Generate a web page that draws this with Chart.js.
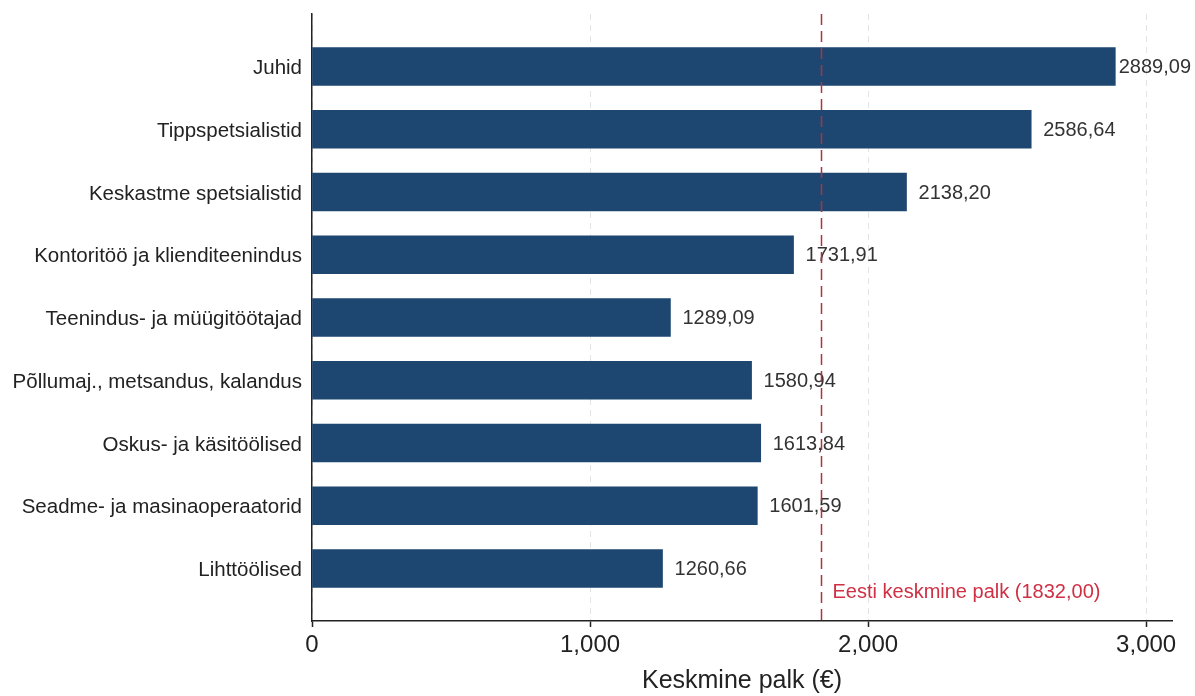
<!DOCTYPE html>
<html>
<head>
<meta charset="utf-8">
<script src="https://cdn.jsdelivr.net/npm/chart.js@4/dist/chart.umd.min.js"></script>
<style>
  html, body { margin: 0; padding: 0; background: #ffffff; }
  #wrap { width: 1195px; height: 696px; position: relative; }
</style>
</head>
<body>
<div id="wrap"><canvas id="c" width="1195" height="696"></canvas></div>
<script>
// Ametiala pearühmad ja nende keskmine brutopalk (€)
const occupations = [
  'Juhid',
  'Tippspetsialistid',
  'Keskastme spetsialistid',
  'Kontoritöö ja klienditeenindus',
  'Teenindus- ja müügitöötajad',
  'Põllumaj., metsandus, kalandus',
  'Oskus- ja käsitöölised',
  'Seadme- ja masinaoperaatorid',
  'Lihttöölised'
];
const avgWage = [2889.09, 2586.64, 2138.20, 1731.91, 1289.09, 1580.94, 1613.84, 1601.59, 1260.66];
const estoniaAverage = 1832.00;
const estoniaAverageLabel = 'Eesti keskmine palk (1832,00)';
const xTicks = [0, 1000, 2000, 3000];
const xTitle = 'Keskmine palk (€)';

const FONT = '"Liberation Sans", Arial, Helvetica, sans-serif';
const BAR = '#1d4671';

const fmt = v => v.toFixed(2).replace('.', ',');

// väärtussildid tulpade lõppu
const valueLabels = {
  id: 'valueLabels',
  afterDatasetsDraw(chart) {
    const ctx = chart.ctx;
    const meta = chart.getDatasetMeta(0);
    ctx.save();
    ctx.font = '20px ' + FONT;
    ctx.fillStyle = '#333333';
    ctx.textBaseline = 'middle';
    ctx.textAlign = 'left';
    meta.data.forEach((bar, i) => {
      const txt = fmt(avgWage[i]);
      const w = ctx.measureText(txt).width;
      const x = Math.min(bar.x + 12, chart.width - w - 4);
      ctx.fillText(txt, x, bar.y + 1);
    });
    ctx.restore();
  }
};

// Eesti keskmise palga joon
const averageLine = {
  id: 'averageLine',
  afterDatasetsDraw(chart) {
    const ctx = chart.ctx;
    const area = chart.chartArea;
    const x = Math.round(chart.scales.x.getPixelForValue(estoniaAverage)) + 0.5;
    ctx.save();
    ctx.strokeStyle = '#b3303f';
    ctx.lineWidth = 1.5;
    ctx.setLineDash([11, 6]);
    ctx.beginPath();
    ctx.moveTo(x, area.top);
    ctx.lineTo(x, area.bottom);
    ctx.stroke();
    ctx.setLineDash([]);
    ctx.font = '20px ' + FONT;
    ctx.fillStyle = '#cf3044';
    ctx.textBaseline = 'middle';
    ctx.textAlign = 'left';
    ctx.fillText(estoniaAverageLabel, x + 11, area.bottom - 29);
    ctx.restore();
  }
};

new Chart(document.getElementById('c'), {
  type: 'bar',
  data: {
    datasets: [{
      data: avgWage.map((v, i) => ({ x: v, y: i })),
      backgroundColor: BAR,
      borderWidth: 0,
      barThickness: 38
    }]
  },
  options: {
    indexAxis: 'y',
    responsive: false,
    animation: false,
    devicePixelRatio: 1,
    layout: { padding: { top: 14, right: 23, left: 0, bottom: 0 } },
    plugins: { legend: { display: false }, tooltip: { enabled: false } },
    scales: {
      y: {
        type: 'linear',
        reverse: true,
        offset: false,
        min: -0.837,
        max: occupations.length - 1 + 0.837,
        afterBuildTicks: axis => { axis.ticks = occupations.map((_, i) => ({ value: i })); },
        afterFit: axis => { axis.width = 312; axis.paddingTop = 0; axis.paddingBottom = 0; },
        grid: { display: false, drawTicks: false, offset: false },
        border: { display: true, color: '#222222', width: 1.5 },
        ticks: {
          padding: 10,
          labelOffset: 2,
          color: '#222222',
          font: { family: FONT, size: 20.5 },
          callback: v => occupations[v]
        }
      },
      x: {
        type: 'linear',
        min: 0,
        max: 3093,
        afterBuildTicks: axis => { axis.ticks = xTicks.map(v => ({ value: v })); },
        afterFit: axis => { axis.height = 75; },
        grid: {
          display: true,
          drawOnChartArea: true,
          color: '#e4e4e4',
          lineWidth: 1,
          tickColor: '#222222',
          tickLength: 6,
          tickWidth: 1.5
        },
        border: { display: true, color: '#222222', width: 1.5, dash: [6, 5] },
        ticks: {
          padding: 4,
          color: '#222222',
          font: { family: FONT, size: 24 },
          callback: v => v.toLocaleString('en-US')
        },
        title: {
          display: true,
          text: xTitle,
          color: '#222222',
          font: { family: FONT, size: 25 },
          padding: { top: 0, bottom: 0 }
        }
      }
    }
  },
  plugins: [valueLabels, averageLine]
});
</script>
</body>
</html>
